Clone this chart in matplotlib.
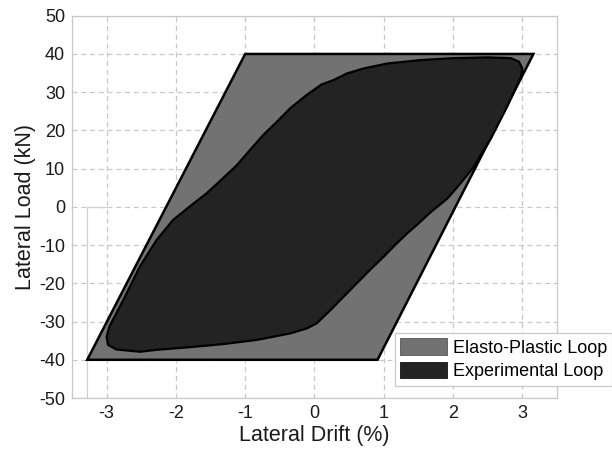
import matplotlib
matplotlib.use("Agg")
import matplotlib.pyplot as plt
from matplotlib.patches import Patch

plt.rcParams['font.family'] = ['Liberation Sans', 'DejaVu Sans']
plt.rcParams['axes.unicode_minus'] = False

# Idealised elasto-plastic envelope (drift %, load kN)
ep_drift = [-3.28, 0.91, 3.16, -1.00]
ep_load = [-40, -40, 40, 40]

# Measured hysteresis loop, traced counter-clockwise from the lower-left corner
exp_drift = [-3.00, -2.96, -2.76, -2.52, -2.28, -2.04, -1.80, -1.56, -1.32, -1.12,
             -0.93, -0.74, -0.54, -0.35, -0.11, 0.10, 0.28, 0.47, 0.71, 1.05,
             1.53, 2.01, 2.49, 2.83, 2.95, 3.00, 2.98, 2.78, 2.55, 2.30,
             2.11, 1.92, 1.67, 1.48, 1.34, 1.19, 1.00, 0.80, 0.61, 0.42,
             0.23, 0.03, -0.11, -0.35, -0.83, -1.32, -1.80, -2.28, -2.52, -2.86,
             -2.98]
exp_load = [-34.0, -31.3, -24.4, -15.6, -8.7, -3.4, 0.1, 3.5, 7.5, 10.9,
            14.9, 18.8, 22.3, 25.8, 29.3, 32.0, 33.2, 34.9, 36.2, 37.5,
            38.4, 38.9, 39.1, 38.9, 38.0, 36.2, 34.0, 26.2, 18.0, 10.5,
            6.2, 2.2, -1.5, -4.7, -6.9, -9.5, -13.0, -16.5, -20.0, -23.5,
            -27.0, -30.5, -31.8, -33.1, -34.8, -35.9, -36.7, -37.4, -37.9, -37.3,
            -36.1]

x_ticks = [-3, -2, -1, 0, 1, 2, 3]
y_ticks = [-50, -40, -30, -20, -10, 0, 10, 20, 30, 40, 50]

ep_color = '#727272'
exp_color = '#232323'

fig = plt.figure(figsize=(6.12, 4.53), dpi=100)
ax = fig.add_axes([0.1176, 0.1214, 0.7925, 0.8439])

ax.fill(ep_drift, ep_load, facecolor=ep_color, edgecolor='black', linewidth=1.8,
        joinstyle='miter', zorder=2)
ax.fill(exp_drift, exp_load, facecolor=exp_color, edgecolor='black', linewidth=1.6,
        joinstyle='round', zorder=3)

# faint construction lines at the left
ax.plot([-3.28, -3.28], [-50, 0], color='#d0d0d0', linewidth=0.9, zorder=1)
ax.plot([-3.28, -3.0], [0, 0], color='#d0d0d0', linewidth=0.9, zorder=1)

ax.set_xlim(-3.5, 3.5)
ax.set_ylim(-50, 50)
ax.set_xticks(x_ticks)
ax.set_yticks(y_ticks)
ax.tick_params(length=0, labelsize=13, pad=5, colors='#1a1a1a')
ax.grid(True, color='#c8c8c8', linestyle=(0, (4, 3)), linewidth=0.9)
ax.set_axisbelow(True)
for s in ax.spines.values():
    s.set_color('#c8c8c8')
    s.set_linewidth(0.9)

ax.set_xlabel('Lateral Drift (%)', fontsize=15.5, color='#1a1a1a', labelpad=2)
ax.set_ylabel('Lateral Load (kN)', fontsize=15.5, color='#1a1a1a', labelpad=2)

handles = [Patch(facecolor=ep_color, edgecolor='#555555', linewidth=0.6),
           Patch(facecolor=exp_color, edgecolor='#111111', linewidth=0.6)]
leg = ax.legend(handles, ['Elasto-Plastic Loop', 'Experimental Loop'],
                loc='upper left', bbox_to_anchor=(0.666, 0.170), borderaxespad=0,
                fontsize=13, handlelength=2.6, handleheight=1.0,
                labelspacing=0.3, handletextpad=0.3, borderpad=0.3,
                fancybox=False, framealpha=1, edgecolor='#c8c8c8')
leg.get_frame().set_linewidth(0.9)
leg.set_zorder(5)

fig.savefig('out.png', dpi=100)
